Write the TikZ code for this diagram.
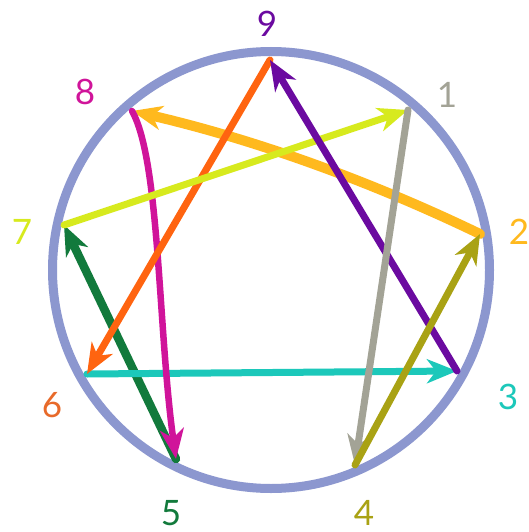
\documentclass[tikz,border=0pt]{standalone}
\usepackage{fontspec}
\setmainfont{Lato}
\usetikzlibrary{arrows.meta}
\definecolor{ering}{HTML}{8C97CF}
\definecolor{epurple}{HTML}{6B0AA0}
\definecolor{eorange}{HTML}{FF6410}
\definecolor{ecyan}{HTML}{1CC8BA}
\definecolor{egray}{HTML}{A3A396}
\definecolor{eolive}{HTML}{A9A214}
\definecolor{egold}{HTML}{FFB91E}
\definecolor{emagenta}{HTML}{D0149A}
\definecolor{egreen}{HTML}{127A3C}
\definecolor{elime}{HTML}{D7EA1E}
\definecolor{elabor}{HTML}{E86A2A}
\tikzset{
  ray/.style={-{Stealth[length=30pt,width=24pt,inset=9pt]},line width=7pt,line cap=round},
  num/.style={font=\fontsize{35}{37}\selectfont,inner sep=0pt},
}

\begin{document}
\begin{tikzpicture}[x=1pt,y=-1pt]
  \useasboundingbox (0,0) rectangle (529,532);
  \fill[white] (0,0) rectangle (529,532);
  % ring
  \node[circle,draw=ering,line width=9pt,minimum size=437pt,inner sep=0pt] (ring) at (271,270) {};
  % points on the ring
  \coordinate (p9) at (270,60);
  \coordinate (p1) at (408,110);
  \coordinate (p2) at (480,234);
  \coordinate (p3) at (457,371);
  \coordinate (p4) at (355,465);
  \coordinate (p5) at (176,459);
  \coordinate (p6) at (87,374);
  \coordinate (p7) at (64,225);
  \coordinate (p8) at (132,111);
  % labels
  \foreach \n/\x/\y/\c in {9/267/24/epurple, 1/447/95/egray, 2/519/232/egold,
                           3/508/397/ecyan, 4/364/513/eolive, 5/171/513/egreen,
                           6/52/405/elabor, 7/22/232/elime, 8/85/92/emagenta} {
    \node[num,text=\c] (n\n) at (\x,\y) {\n};
  }
  % lines, bottom to top
  \draw[ray,draw=egold,line width=10pt] (p2) .. controls (368,180) and (253,139) .. (p8);
  \draw[ray,draw=egreen,line width=8.5pt] (p5) -- (p7);
  \draw[ray,draw=ecyan] (p6) -- (p3);
  \draw[ray,draw=emagenta,line width=6.5pt] (p8) .. controls (160,160) and (158,330) .. (p5);
  \foreach \a/\b/\c in {9/6/eorange, 7/1/elime, 3/9/epurple, 1/4/egray, 4/2/eolive} {
    \draw[ray,draw=\c] (p\a) -- (p\b);
  }
\end{tikzpicture}
\end{document}
